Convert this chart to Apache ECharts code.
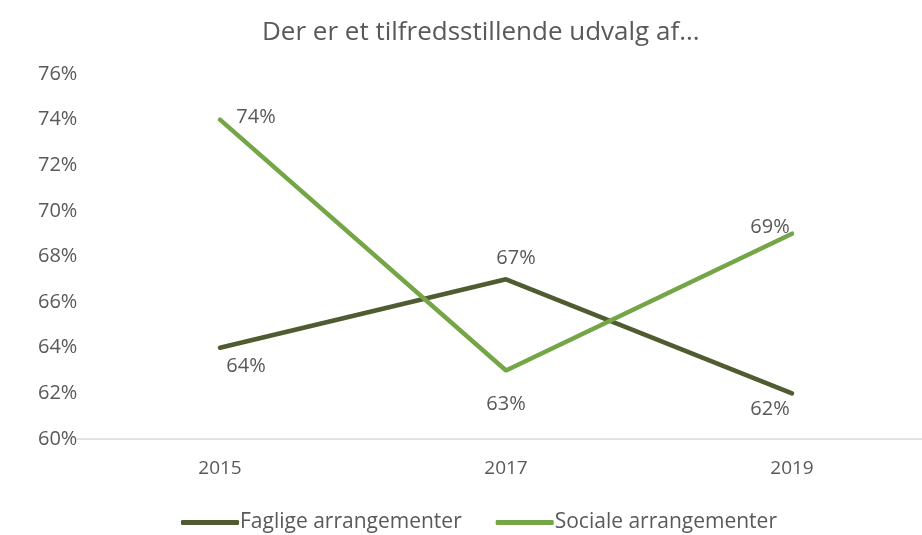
<!DOCTYPE html>
<html>
<head>
<meta charset="utf-8">
<script src="https://cdn.jsdelivr.net/npm/echarts@6/dist/echarts.min.js"></script>
<style>
    html, body { margin: 0; padding: 0; background: #fff; }
    #chart { width: 922px; height: 535px; }
</style>
</head>
<body>
<div id="chart"></div>
<script>
const years = ['2015', '2017', '2019'];
const faglige = [64, 67, 62];
const sociale = [74, 63, 69];

const txt = '#595959';
const font = '"Open Sans", "Noto Sans", sans-serif';

// label offsets (from top position), Excel-ish placement
const fagligeOffsets = [[26, 29], [10, -11], [-22, 26]];
const socialeOffsets = [[36, 8], [0, 44], [-22, 4]];

const toData = (vals, offs) => vals.map((v, i) => ({
    value: v,
    label: { offset: offs[i] },
}));

const lineLabel = {
    show: true,
    position: 'top',
    distance: 0,
    color: txt,
    fontSize: 20,
    fontFamily: font,
    formatter: p => `${p.value}%`,
};

const myChart = echarts.init(document.getElementById('chart'));
const option = {
    backgroundColor: '#fff',
    textStyle: { fontFamily: font },
    title: {
        text: 'Der er et tilfredsstillende udvalg af...',
        left: 257,
        top: 15,
        textStyle: { color: txt, fontSize: 26, fontWeight: 'normal', fontFamily: font },
    },
    grid: {
        left: 77,
        top: 74,
        width: 858,
        height: 365,
        outerBoundsMode: 'none',
    },
    legend: {
        top: 507,
        left: 176,
        itemWidth: 58,
        itemHeight: 5,
        itemGap: 34,
        icon: 'roundRect',
        textStyle: { color: txt, fontSize: 21, fontFamily: font, padding: [0, 0, 0, -4] },
        data: ['Faglige arrangementer', 'Sociale arrangementer'],
    },
    xAxis: {
        type: 'category',
        data: years,
        axisTick: { show: false },
        axisLine: { lineStyle: { color: '#d9d9d9', width: 1.5 } },
        axisLabel: { color: txt, fontSize: 19, margin: 20 },
    },
    yAxis: {
        type: 'value',
        min: 60,
        max: 76,
        interval: 2,
        splitLine: { show: false },
        axisLine: { show: false },
        axisTick: { show: false },
        axisLabel: {
            color: txt,
            fontSize: 20,
            align: 'left',
            margin: 39,
            formatter: v => `${v}%`,
        },
    },
    series: [
        {
            name: 'Faglige arrangementer',
            type: 'line',
            data: toData(faglige, fagligeOffsets),
            symbol: 'circle',
            symbolSize: 0.1,
            lineStyle: { color: '#4f5b31', width: 4.5, cap: 'round' },
            itemStyle: { color: '#4f5b31' },
            label: lineLabel,
        },
        {
            name: 'Sociale arrangementer',
            type: 'line',
            data: toData(sociale, socialeOffsets),
            symbol: 'circle',
            symbolSize: 0.1,
            lineStyle: { color: '#74a546', width: 4.5, cap: 'round' },
            itemStyle: { color: '#74a546' },
            label: lineLabel,
        },
    ],
};
myChart.setOption(option);
</script>
</body>
</html>
